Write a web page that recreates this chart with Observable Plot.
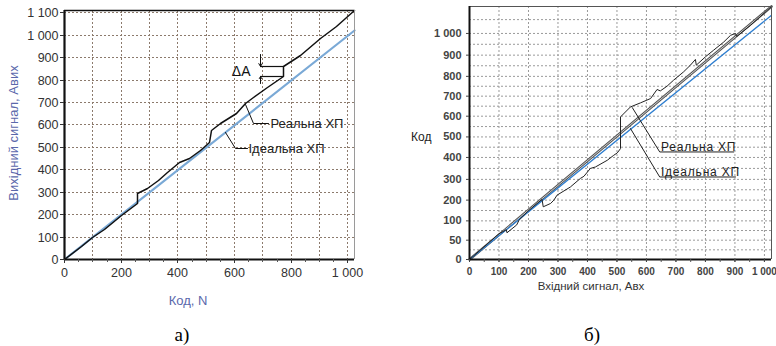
<!DOCTYPE html>
<html><head><meta charset="utf-8">
<script src="https://cdn.jsdelivr.net/npm/d3@7"></script>
<script src="https://cdn.jsdelivr.net/npm/@observablehq/plot@0.6"></script>
<style>
body{margin:0;background:#fff;}
#root{position:relative;width:776px;height:346px;overflow:hidden;background:#fff;font-family:"Liberation Sans",Arial,sans-serif;}
.abs{position:absolute;white-space:nowrap;}
#pa{position:absolute;left:0;top:0;width:370px;height:310px;}
#pb{position:absolute;left:390px;top:0;width:386px;height:300px;}
</style></head><body><div id="root"><div id="pa"></div><div id="pb"></div></div>
<script>
// ---------- Panel а) ----------
const codeTicksA = [0, 200, 400, 600, 800, 1000];
const codeGridA = [100, 200, 300, 400, 500, 600, 700, 800, 900, 1000];
const signalTicksA = [0, 100, 200, 300, 400, 500, 600, 700, 800, 900, 1000, 1100];
const idealCodeA = [0, 1023];
const idealSignalA = [0, 1023];
const realCodeA = [0, 60, 100, 140, 200, 230, 258, 259, 292, 330, 362, 407, 440, 480, 513, 517, 550, 606, 638, 668, 715, 771, 771, 832, 903, 960, 1023];
const realSignalA = [0, 57, 99, 134, 196, 223, 251, 296, 315, 352, 389, 431, 452, 486, 523, 575, 605, 650, 697, 724, 765, 816, 862, 909, 984, 1040, 1110];
const deltaA = {code: 691, low: 816, high: 862, codeEnd: 771};
const realLabelA = {text: "Реальна ХП", from: [638, 690], knee: [668, 605], end: [720, 605]};
const idealLabelA = {text: "Ідеальна ХП", from: [568, 568], knee: [603, 494], end: [644, 494]};

// ---------- Panel б) ----------
const signalTicksB = [0, 100, 200, 300, 400, 500, 600, 700, 800, 900, 1000];
const codeTickLabelsB = ["0", "50", "100", "200", "300", "400", "500", "600", "700", "800", "900", "1 000"];
const codeTickPositionsB = [0, 81, 162, 249, 336, 428, 514, 601, 685, 768, 857, 948];
const idealSignalB = [0, 1023];
const idealCodeB = [0, 1023];
const straightSignalB = [0, 1024];
const straightCodeB = [0, 1061];
const realSignalB = [0, 100, 125, 127, 160, 168, 196, 229, 246, 250, 275, 286, 297, 342, 376, 388, 410, 427, 467, 489, 501, 512, 512, 546, 580, 614, 636, 647, 670, 692, 726, 749, 766, 769, 800, 828, 862, 885, 902, 906, 953, 1024];
const realCodeB = [0, 108, 125, 112, 145, 165, 200, 235, 252, 221, 235, 249, 270, 304, 340, 349, 382, 388, 416, 437, 447, 465, 598, 640, 657, 675, 713, 707, 727, 752, 787, 815, 839, 815, 850, 878, 912, 940, 948, 935, 982, 1061];
const realLabelB = {text: "Реальна ХП", from: [552, 637], knee: [645, 451], end: [896, 451]};
const idealLabelB = {text: "Ідеальна ХП", from: [546, 549], knee: [645, 346], end: [902, 346]};

const zip = (xs, ys) => xs.map((x, i) => ({x, y: ys[i]}));
const fmtSpace = d => d3.format(",")(d).replace(/,/g, " ");
const leader = L => [{x: L.from[0], y: L.from[1]}, {x: L.knee[0], y: L.knee[1]}, {x: L.end[0], y: L.end[1]}];

// ---- Plot A ----
const plotA = Plot.plot({
  width: 370, height: 310,
  marginLeft: 64, marginRight: 16, marginTop: 10, marginBottom: 51,
  x: {domain: [0, 1023], round: true},
  y: {domain: [0, 1110], round: true},
  style: {fontFamily: "Liberation Sans, Arial, sans-serif", fontSize: "12.5px", color: "#333", background: "transparent"},
  marks: [
    Plot.gridX(codeGridA, {stroke: "#8c7a6c", strokeOpacity: 1, strokeWidth: 1, strokeDasharray: "2,2"}),
    Plot.gridY(signalTicksA.slice(1), {stroke: "#8c7a6c", strokeOpacity: 1, strokeWidth: 1, strokeDasharray: "2,2"}),
    Plot.line(zip(idealCodeA, idealSignalA), {x: "x", y: "y", stroke: "#7aa9d6", strokeWidth: 2.2}),
    Plot.line(zip(realCodeA, realSignalA), {x: "x", y: "y", stroke: "#111", strokeWidth: 1.5}),
    // ΔA marker
    Plot.ruleY([deltaA.high, deltaA.low], {x1: deltaA.code, x2: deltaA.codeEnd, stroke: "#111", strokeWidth: 1.2}),
    Plot.arrow([
      {x1: deltaA.code, x2: deltaA.code, y1: deltaA.high + 52, y2: deltaA.high},
      {x1: deltaA.code, x2: deltaA.code, y1: deltaA.low - 30, y2: deltaA.low}
    ], {x1: "x1", x2: "x2", y1: "y1", y2: "y2", headLength: 5, stroke: "#111", strokeWidth: 1}),
    Plot.text([{t: "ΔA"}], {x: 655, y: 840, text: "t", textAnchor: "end", fontSize: 14, fill: "#111"}),
    // leaders
    Plot.line(leader(realLabelA), {x: "x", y: "y", stroke: "#111", strokeWidth: 1}),
    Plot.line(leader(idealLabelA), {x: "x", y: "y", stroke: "#111", strokeWidth: 1}),
    Plot.text([realLabelA], {x: d => d.end[0] + 6, y: d => d.end[1], text: "text", textAnchor: "start", fontSize: 13, fill: "#222"}),
    Plot.text([idealLabelA], {x: d => d.end[0] + 5, y: d => d.end[1], text: "text", textAnchor: "start", fontSize: 13, fill: "#222"}),
    // frame
    Plot.ruleX([1023], {stroke: "#9a9a9a", strokeWidth: 1}),
    Plot.ruleY([1110], {stroke: "#111", strokeWidth: 1.5}),
    Plot.ruleX([0], {stroke: "#111", strokeWidth: 2.2}),
    Plot.ruleY([0], {stroke: "#111", strokeWidth: 2.2}),
    Plot.axisY(signalTicksA, {tickSize: 4, tickPadding: 2, tickFormat: fmtSpace, label: null, color: "#333", fontSize: 12.5}),
    Plot.axisX(d3.range(0, 1001, 50), {tickSize: 3, tickFormat: () => "", label: null, color: "#555"}),
    Plot.axisX(codeTicksA, {tickSize: 4, tickPadding: 5, tickFormat: fmtSpace, label: null, color: "#333", fontSize: 12.5})
  ]
});
document.getElementById("pa").appendChild(plotA);

// ---- Plot B ----
const codeLabelMap = new Map(codeTickPositionsB.map((p, i) => [p, codeTickLabelsB[i]]));
const codeGridB = codeTickPositionsB.slice(1).concat(d3.pairs(codeTickPositionsB, (a, b) => (a + b) / 2), [1006]);
const plotB = Plot.plot({
  width: 386, height: 300,
  marginLeft: 79, marginRight: 5, marginTop: 6, marginBottom: 41,
  x: {domain: [0, 1024]},
  y: {domain: [0, 1061]},
  style: {fontFamily: "Liberation Sans, Arial, sans-serif", fontSize: "11px", color: "#333", background: "transparent"},
  marks: [
    Plot.gridX(signalTicksB.slice(1), {stroke: "#9a9a9a", strokeOpacity: 1, strokeWidth: 1, strokeDasharray: "2,2"}),
    Plot.gridY(codeGridB, {stroke: "#9a9a9a", strokeOpacity: 1, strokeWidth: 1, strokeDasharray: "2,2"}),
    Plot.line(zip(straightSignalB, straightCodeB), {x: "x", y: "y", stroke: "#555", strokeWidth: 2.6}),
    Plot.line(zip(straightSignalB, straightCodeB), {x: "x", y: "y", stroke: "#d8d8d8", strokeWidth: 0.9}),
    Plot.line(zip(idealSignalB, idealCodeB), {x: "x", y: "y", stroke: "#2f7fd0", strokeWidth: 1.3}),
    Plot.line(zip(realSignalB, realCodeB), {x: "x", y: "y", stroke: "#222", strokeWidth: 1}),
    Plot.line(leader(realLabelB), {x: "x", y: "y", stroke: "#222", strokeWidth: 1}),
    Plot.line(leader(idealLabelB), {x: "x", y: "y", stroke: "#222", strokeWidth: 1}),
    Plot.text([realLabelB, idealLabelB], {x: d => d.knee[0] + 4, y: d => d.knee[1], text: "text", textAnchor: "start", lineAnchor: "bottom", dy: -1, fontSize: 12, fill: "#222"}),
    // frame
    Plot.ruleX([1024], {stroke: "#555", strokeWidth: 1}),
    Plot.ruleY([1061], {stroke: "#555", strokeWidth: 1}),
    Plot.ruleX([0], {stroke: "#111", strokeWidth: 2}),
    Plot.ruleY([0], {stroke: "#111", strokeWidth: 2}),
    Plot.axisY(codeTickPositionsB, {tickSize: 3, tickPadding: 5, tickFormat: d => codeLabelMap.get(d), label: null, color: "#444", fontSize: 11, fontWeight: "bold"}),
    Plot.axisX(d3.range(0, 1001, 50), {tickSize: 3, tickFormat: () => "", label: null, color: "#555"}),
    Plot.axisX(signalTicksB, {tickSize: 3, tickPadding: 5, tickFormat: fmtSpace, label: null, color: "#444", fontSize: 10, fontWeight: "bold"})
  ]
});
document.getElementById("pb").appendChild(plotB);
plotB.querySelectorAll("g[aria-label='text'] text").forEach(t => t.style.letterSpacing = "0.8px");

// ---- HTML labels ----
const root = document.getElementById("root");
function addLabel(text, css) {
  const d = document.createElement("div");
  d.className = "abs";
  d.textContent = text;
  Object.assign(d.style, css);
  root.appendChild(d);
}
addLabel("Вихідний сигнал, Авих", {left: "13px", top: "133px", transform: "translate(-50%,-50%) rotate(-90deg)", color: "#5a68ab", fontSize: "13px"});
addLabel("Код, N", {left: "188px", top: "300px", transform: "translate(-50%,-50%)", color: "#5a68ab", fontSize: "13px"});
addLabel("Код", {left: "411px", top: "137px", transform: "translate(0,-50%)", color: "#222", fontSize: "12px"});
addLabel("Вхідний сигнал, Авх", {left: "591px", top: "286px", transform: "translate(-50%,-50%)", color: "#333", fontSize: "11.5px"});
addLabel("а)", {left: "182px", top: "335px", transform: "translate(-50%,-50%)", color: "#000", fontSize: "19px", fontFamily: "'Liberation Serif','Times New Roman',serif"});
addLabel("б)", {left: "592px", top: "335px", transform: "translate(-50%,-50%)", color: "#000", fontSize: "19px", fontFamily: "'Liberation Serif','Times New Roman',serif"});
</script></body></html>
